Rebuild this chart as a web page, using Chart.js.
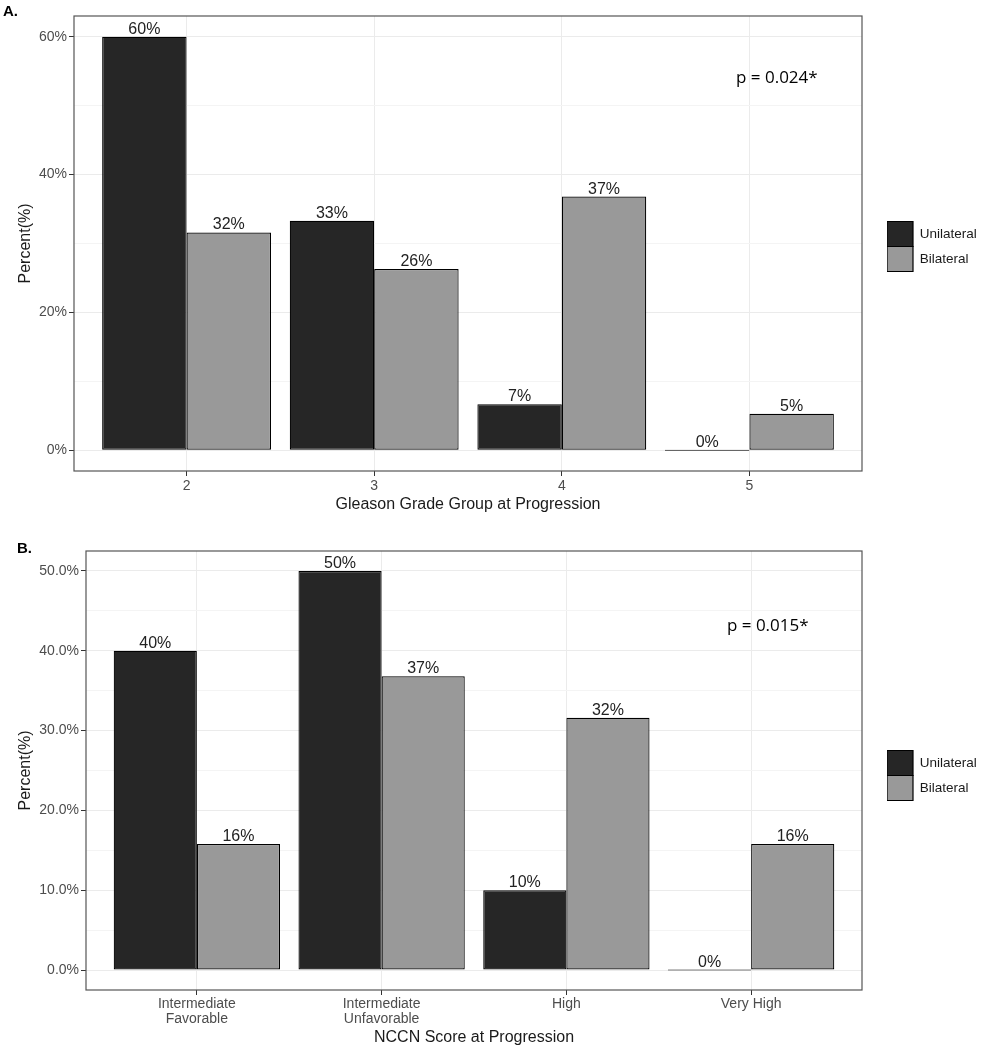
<!DOCTYPE html>
<html><head><meta charset="utf-8">
<script src="https://cdn.jsdelivr.net/npm/chart.js@4.4.1/dist/chart.umd.min.js"></script>
<style>
html,body{margin:0;padding:0;background:#fff;}
.panel{position:absolute;left:0;width:985px;height:525px;}
#pa{top:0}
#pb{top:525px}
</style></head><body>
<div class="panel" id="pa"><canvas id="ca"></canvas></div>
<div class="panel" id="pb"><canvas id="cb"></canvas></div>
<script>
// ---- data ----
const seriesNames = ['Unilateral', 'Bilateral'];
const seriesColors = ['#262626', '#999999'];

const gleasonCategories = ['2', '3', '4', '5'];
const gleasonUnilateral = [60.0, 33.3, 6.7, 0.0];
const gleasonBilateral = [31.6, 26.3, 36.8, 5.3];
const gleasonYTicks = [0, 10, 20, 30, 40, 50, 60];
const gleasonPValue = 'p = 0.024*';

const nccnCategories = [['Intermediate', 'Favorable'], ['Intermediate', 'Unfavorable'], 'High', 'Very High'];
const nccnUnilateral = [40.0, 50.0, 10.0, 0.0];
const nccnBilateral = [15.8, 36.8, 31.6, 15.8];
const nccnYTicks = [0, 5, 10, 15, 20, 25, 30, 35, 40, 45, 50];
const nccnPValue = 'p = 0.015*';

const FONT = "'Liberation Sans', Arial, sans-serif";

function makePanel(canvasId, o) {
  const toPoints = arr => arr.map((v, i) => ({x: i + 1, y: v}));
  const panelPlugin = {
    id: 'panelExtras',
    beforeLayout(chart) {
      const lg = chart.legend;
      if (lg && !lg._patched) {
        const orig = lg.fit;
        lg.fit = function () { orig.call(this); this.width = o.legendWidth; };
        lg._patched = true;
      }
    },
    afterLayout(chart) {
      const lg = chart.legend;
      if (lg) {
        lg.left = chart.chartArea.right + 25;
        lg.top += o.legendShift; lg.bottom += o.legendShift;
      }
    },
    afterDatasetsDraw(chart) {
      const ctx = chart.ctx;
      ctx.save();
      ctx.font = '16px ' + FONT;
      ctx.fillStyle = '#222';
      ctx.textAlign = 'center';
      ctx.textBaseline = 'alphabetic';
      chart.data.datasets.forEach((ds, di) => {
        const meta = chart.getDatasetMeta(di);
        meta.data.forEach((el, i) => {
          const v = ds.data[i].y;
          const yPix = chart.scales.y.getPixelForValue(v);
          ctx.fillText(Math.round(v) + '%', el.x, yPix - 3);
        });
      });
      ctx.restore();
    },
    afterDraw(chart) {
      const ctx = chart.ctx;
      const a = chart.chartArea;
      ctx.save();
      ctx.strokeStyle = '#555';
      ctx.lineWidth = 1.2;
      ctx.strokeRect(a.left, a.top, a.right - a.left, a.bottom - a.top);
      ctx.fillStyle = '#000';
      ctx.font = 'bold 15px ' + FONT;
      ctx.textAlign = 'left';
      ctx.textBaseline = 'alphabetic';
      ctx.fillText(o.panelLabel, o.panelLabelX, o.panelLabelY);
      ctx.font = "17px 'Open Sans', sans-serif";
      ctx.textAlign = 'center';
      ctx.textBaseline = 'middle';
      ctx.fillText(o.pText, chart.scales.x.getPixelForValue(o.pX), chart.scales.y.getPixelForValue(o.pY));
      ctx.restore();
    }
  };

  return new Chart(document.getElementById(canvasId), {
    type: 'bar',
    data: {
      datasets: [
        {label: seriesNames[0], data: toPoints(o.uni), backgroundColor: seriesColors[0], borderColor: '#000', borderWidth: 1.2, borderSkipped: false, minBarLength: 1},
        {label: seriesNames[1], data: toPoints(o.bil), backgroundColor: seriesColors[1], borderColor: '#000', borderWidth: 1.2, borderSkipped: false}
      ]
    },
    options: {
      responsive: true,
      maintainAspectRatio: false,
      animation: false,
      categoryPercentage: 0.9,
      barPercentage: 1.0,
      layout: {padding: {top: o.padTop, left: 0, right: 0, bottom: 0}},
      plugins: {
        tooltip: {enabled: false},
        legend: {
          position: 'right',
          fullSize: false,
          align: 'center',
          labels: {boxWidth: 26, boxHeight: 25, padding: 0, color: '#1a1a1a', font: {family: FONT, size: 13.5}}
        }
      },
      scales: {
        x: {
          type: 'linear',
          offset: false,
          min: 0.4, max: 4.6,
          afterBuildTicks: s => { s.ticks = o.cats.map((c, i) => ({value: i + 1})); },
          afterFit: s => { s.height = o.xAxisHeight; },
          ticks: {
            autoSkip: false, maxRotation: 0, padding: 2,
            color: '#4d4d4d', font: {family: FONT, size: 14, lineHeight: o.tickLineHeight},
            callback: v => o.cats[Math.round(v) - 1]
          },
          grid: {offset: false, color: '#ebebeb', lineWidth: 1, tickColor: '#333', tickLength: 5},
          border: {display: false},
          title: {display: true, text: o.xTitle, color: '#1a1a1a', font: {family: FONT, size: 16, lineHeight: 1.2}, padding: {top: 0, bottom: o.xTitlePadBottom}}
        },
        y: {
          min: o.yMin, max: o.yMax,
          afterBuildTicks: s => { s.ticks = o.yTicks.map(v => ({value: v})); },
          afterFit: s => { s.width = o.yAxisWidth; },
          ticks: {
            padding: 2, color: '#4d4d4d', font: {family: FONT, size: 14},
            callback: v => (v % o.majorStep === 0 ? o.fmt(v) : '')
          },
          grid: {
            color: c => (c.tick && c.tick.value % o.majorStep === 0 ? '#ebebeb' : '#f4f4f4'),
            lineWidth: 1,
            tickColor: c => (c.tick && c.tick.value % o.majorStep === 0 ? '#333' : 'rgba(0,0,0,0)'),
            tickLength: 5
          },
          border: {display: false},
          title: {display: true, text: 'Percent(%)', color: '#1a1a1a', font: {family: FONT, size: 16, lineHeight: 1.2}, padding: {top: 16.4, bottom: 0}}
        }
      }
    },
    plugins: [panelPlugin]
  });
}

makePanel('ca', {
  cats: gleasonCategories, uni: gleasonUnilateral, bil: gleasonBilateral,
  yMin: -3, yMax: 63, yTicks: gleasonYTicks, majorStep: 20, fmt: v => v + '%',
  xTitle: 'Gleason Grade Group at Progression',
  padTop: 16, yAxisWidth: 74, xAxisHeight: 54, xTitlePadBottom: 10.4, tickLineHeight: 1.2,
  legendWidth: 123, legendShift: 3,
  panelLabel: 'A.', panelLabelX: 3, panelLabelY: 16,
  pText: gleasonPValue, pX: 4.146, pY: 54
});

makePanel('cb', {
  cats: nccnCategories, uni: nccnUnilateral, bil: nccnBilateral,
  yMin: -2.5, yMax: 52.5, yTicks: nccnYTicks, majorStep: 10, fmt: v => v.toFixed(1) + '%',
  xTitle: 'NCCN Score at Progression',
  padTop: 26, yAxisWidth: 86, xAxisHeight: 60, xTitlePadBottom: 2.4, tickLineHeight: 1.07,
  legendWidth: 123, legendShift: 5,
  panelLabel: 'B.', panelLabelX: 17, panelLabelY: 28,
  pText: nccnPValue, pX: 4.09, pY: 43.1
});
</script>
</body></html>
